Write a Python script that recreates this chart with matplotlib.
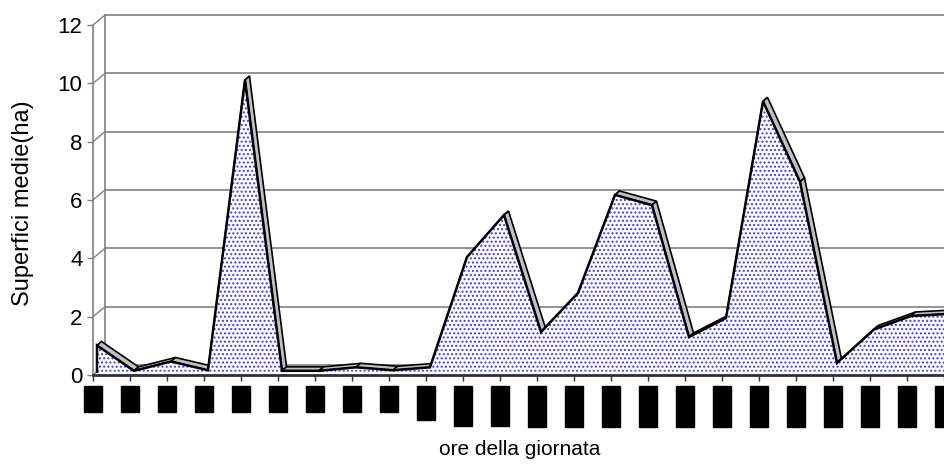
import matplotlib.pyplot as plt
from matplotlib.patches import Polygon

plt.rcParams["font.family"] = ["Liberation Sans", "DejaVu Sans"]

# fasce orarie e superfici medie (ha)
ORE = ["0-1", "1-2", "2-3", "3-4", "4-5", "5-6", "6-7", "7-8", "8-9", "9-10",
       "10-11", "11-12", "12-13", "13-14", "14-15", "15-16", "16-17", "17-18",
       "18-19", "19-20", "20-21", "21-22", "22-23", "23-24"]
SUPERFICI = [0.9, 0.03, 0.35, 0.05, 10.0, 0.03, 0.03, 0.15, 0.05, 0.15,
             3.93, 5.37, 1.36, 2.7, 6.06, 5.71, 1.19, 1.84, 9.27, 6.51,
             0.3, 1.45, 1.91, 1.98]
Y_TICKS = [0, 2, 4, 6, 8, 10, 12]

W, H = 944, 466
PX_X = 37.0          # pixel per categoria
PX_Y = 350.0 / 12    # pixel per ettaro


def off(dx_px, dy_px):
    """pseudo-3D offset in data units (dy positive = up)"""
    return dx_px / PX_X, dy_px / PX_Y


WALL = off(12, 10)     # back wall
FRONT = off(4, 3.3)    # front face of the area
BACK = off(8.5, 7.3)   # back face of the area

fig = plt.figure(figsize=(W / 100, H / 100), dpi=100)
ax = fig.add_axes([93 / W, 91 / H, 24 * PX_X / W, 12.5 * PX_Y / H])
ax.set_xlim(0, 24)
ax.set_ylim(0, 12.5)

grid_c = "#808080"
# back wall gridlines + side wall
for v in Y_TICKS:
    ax.plot([WALL[0], 24], [v + WALL[1]] * 2, color=grid_c, lw=1.2, zorder=1)
    ax.plot([0, WALL[0]], [v, v + WALL[1]], color=grid_c, lw=1.0, zorder=1)
ax.plot([WALL[0]] * 2, [WALL[1], 12 + WALL[1]], color=grid_c, lw=1.2, zorder=1)

n = len(SUPERFICI)
fx = [i + FRONT[0] for i in range(n)]
fy = [v + FRONT[1] for v in SUPERFICI]
bx = [i + BACK[0] for i in range(n)]
by = [v + BACK[1] for v in SUPERFICI]

# top faces of the area
for i in range(n - 1):
    strip = Polygon([(fx[i], fy[i]), (fx[i + 1], fy[i + 1]),
                     (bx[i + 1], by[i + 1]), (bx[i], by[i])],
                    closed=True, facecolor="#c0c0c0", edgecolor="black",
                    lw=1.2, zorder=2)
    ax.add_patch(strip)

# front face with dotted fill
verts = [(fx[0], FRONT[1])] + list(zip(fx, fy)) + [(fx[-1], FRONT[1])]
face = Polygon(verts, closed=True, facecolor="white", edgecolor="#3a3aff",
               hatch="....", lw=0, zorder=3)
ax.add_patch(face)
ax.plot([fx[0]] + fx, [FRONT[1]] + fy, color="black", lw=1.8, zorder=4,
        solid_joinstyle="miter")

# axes
for s in ("top", "right"):
    ax.spines[s].set_visible(False)
ax.spines["left"].set_bounds(0, 12)
ax.spines["left"].set_color(grid_c)
ax.spines["left"].set_linewidth(1.2)
ax.spines["bottom"].set_color("#303030")
ax.spines["bottom"].set_linewidth(2)
ax.spines["bottom"].set_zorder(5)

ax.set_yticks(Y_TICKS)
ax.set_yticklabels([str(v) for v in Y_TICKS], fontsize=16)
ax.tick_params(axis="y", length=4, width=1, color=grid_c, pad=3.5)

ax.set_xticks(range(n))
ax.set_xticklabels(ORE, rotation=90, fontsize=9.5, va="top", ha="center")
ax.tick_params(axis="x", length=4.5, width=1, color="#303030", pad=6)
for lbl in ax.get_xticklabels():
    lbl.set_bbox(dict(facecolor="black", edgecolor="black", pad=2.5))

fig.text(23 / W, 1 - 203 / H, "Superfici medie(ha)", rotation=90,
         ha="center", va="center", fontsize=17)
fig.text(520 / W, 1 - 455 / H, "ore della giornata", ha="center",
         va="baseline", fontsize=15)

fig.savefig("out.png", dpi=100)
